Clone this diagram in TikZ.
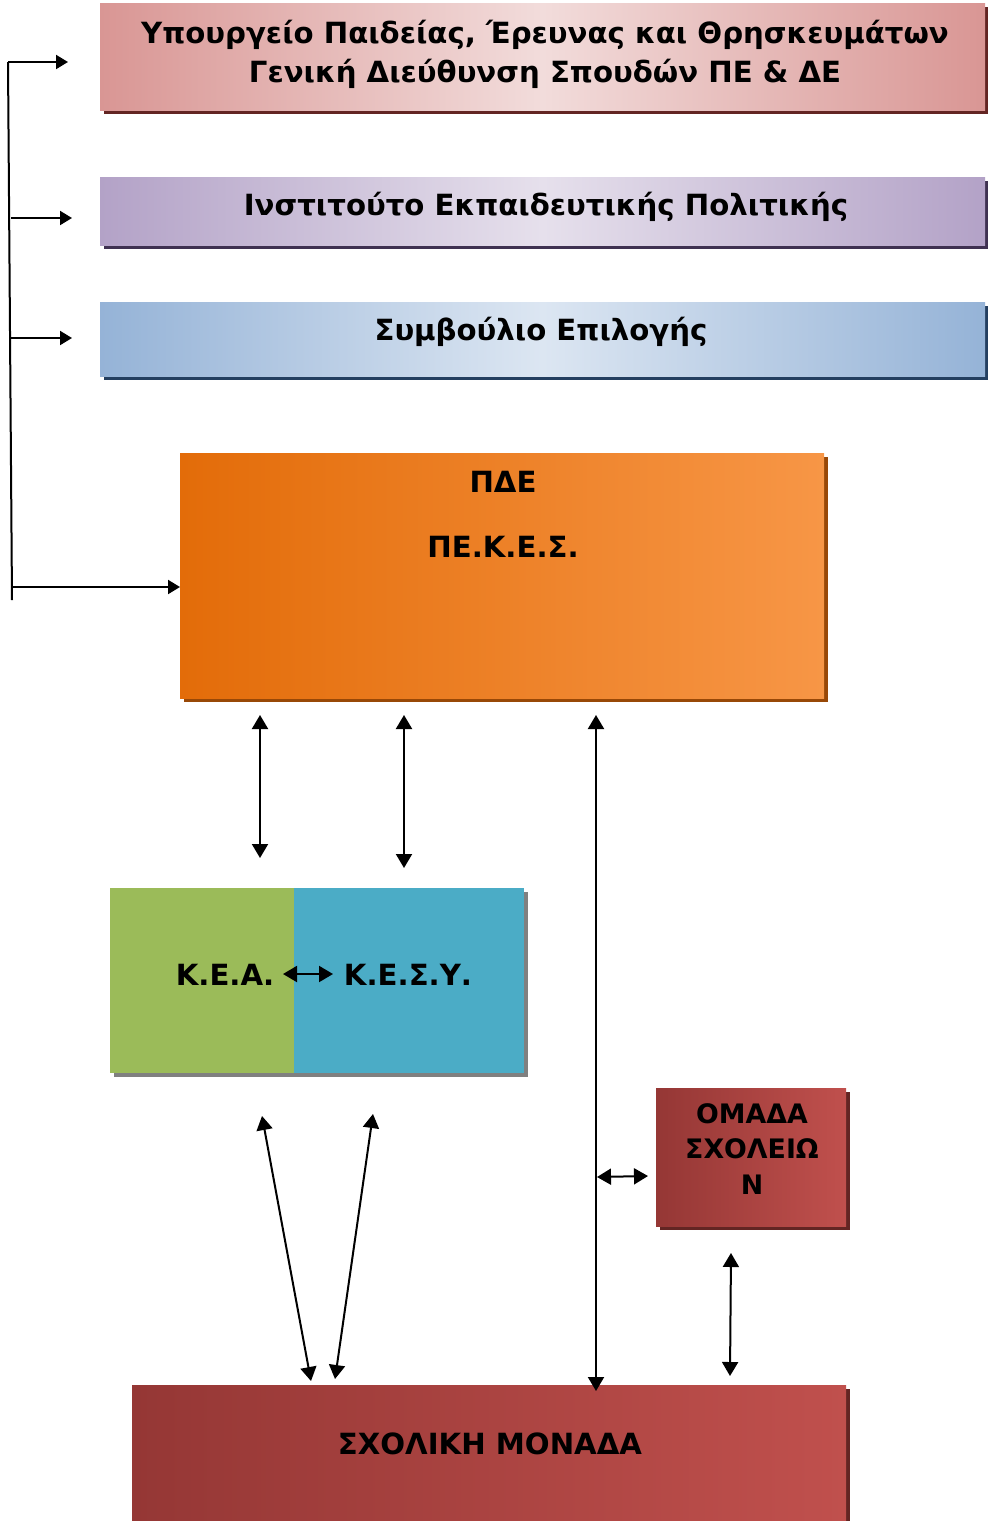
\documentclass[tikz,border=0pt]{standalone}
\usepackage{fontspec}
\setmainfont{DejaVu Sans}
\usetikzlibrary{arrows.meta,shadows,calc}
\definecolor{pinkE}{HTML}{D99694}
\definecolor{pinkM}{HTML}{F2DCDB}
\definecolor{pinkS}{HTML}{632523}
\definecolor{purE}{HTML}{B3A2C7}
\definecolor{purM}{HTML}{E6E0EC}
\definecolor{purS}{HTML}{3F3151}
\definecolor{bluE}{HTML}{95B3D7}
\definecolor{bluM}{HTML}{DCE6F2}
\definecolor{bluS}{HTML}{243F60}
\definecolor{orL}{HTML}{E36C09}
\definecolor{orR}{HTML}{F79646}
\definecolor{orS}{HTML}{984807}
\definecolor{keaG}{HTML}{9BBB59}
\definecolor{kesyB}{HTML}{4BACC6}
\definecolor{redL}{HTML}{953735}
\definecolor{redR}{HTML}{C0504D}
\definecolor{redS}{HTML}{632523}
\begin{document}
\begin{tikzpicture}[x=0.5pt,y=-0.5pt,
  box/.style={anchor=north west, inner sep=0pt, outer sep=0pt},
  sh/.style={general shadow={fill=#1, shadow xshift=2pt, shadow yshift=-2pt}},
  lbl/.style={font=\bfseries\fontsize{14.6}{19.5}\selectfont, align=center, inner sep=0pt},
  arr/.style={line width=1pt, {Triangle[length=7pt,width=8pt]}-{Triangle[length=7pt,width=8pt]}},
  sarr/.style={line width=1pt, -{Triangle[length=6pt,width=7pt]}},
  ln/.style={line width=1pt}
]
\useasboundingbox (0,0) rectangle (987,1521);
% boxes
\node[box, sh=pinkS, minimum width=442.5pt, minimum height=53.5pt,
  left color=pinkE, right color=pinkE, middle color=pinkM] (min) at (100,3) {};
\node[box, sh=purS, minimum width=442.5pt, minimum height=34pt,
  left color=purE, right color=purE, middle color=purM] (iep) at (100,177) {};
\node[box, sh=bluS, minimum width=442.5pt, minimum height=37pt,
  left color=bluE, right color=bluE, middle color=bluM] (se) at (100,302) {};
\node[box, sh=orS, minimum width=322pt, minimum height=122.5pt,
  left color=orL, right color=orR] (pae) at (180,453) {};
\node[box, sh=gray, minimum width=92pt, minimum height=92.5pt, fill=keaG] (kea) at (110,888) {};
\node[box, sh=gray, minimum width=115pt, minimum height=92.5pt, fill=kesyB] (kesy) at (294,888) {};
\node[box, sh=redS, minimum width=95pt, minimum height=69pt,
  left color=redL, right color=redR] (omada) at (656,1088) {};
\node[box, sh=redS, minimum width=357pt, minimum height=68pt,
  left color=redL, right color=redR] (sm) at (132,1385) {};
% labels
\node[lbl] (minT) at (545,54) {Υπουργείο Παιδείας, Έρευνας και Θρησκευμάτων\\Γενική Διεύθυνση Σπουδών ΠΕ \& ΔΕ};
\node[lbl] (iepT) at (546,207) {Ινστιτούτο Εκπαιδευτικής Πολιτικής};
\node[lbl] (seT) at (541,332) {Συμβούλιο Επιλογής};
\node[lbl] (paeT1) at (503,482) {ΠΔΕ};
\node[lbl] (paeT2) at (503,547) {ΠΕ.Κ.Ε.Σ.};
\node[lbl] (keaT) at (225,975) {Κ.Ε.Α.};
\node[lbl] (kesyT) at (408,975) {Κ.Ε.Σ.Υ.};
\node[lbl, font=\bfseries\fontsize{13.4}{17.75}\selectfont] (omadaT) at (752,1149) {ΟΜΑΔΑ\\ΣΧΟΛΕΙΩ\\Ν};
\node[lbl] (smT) at (490,1444) {ΣΧΟΛΙΚΗ ΜΟΝΑΔΑ};
% left distributor
\coordinate (L0) at (8,62);
\coordinate (L1) at (12,600);
\coordinate (a1) at (68,62);
\coordinate (b0) at (11,218);
\coordinate (b1) at (72,218);
\coordinate (c0) at (11,338);
\coordinate (c1) at (72,338);
\coordinate (d0) at (12,587);
\coordinate (d1) at (180,587);
\draw[ln] (L1) -- (L0);
\draw[sarr] (L0) -- (a1);
\draw[sarr] (b0) -- (b1);
\draw[sarr] (c0) -- (c1);
\draw[sarr] (d0) -- (d1);
% pae - kea/kesy
\coordinate (e0) at (260,715);
\coordinate (e1) at (260,858);
\coordinate (f0) at (404,715);
\coordinate (f1) at (404,868);
\draw[arr] (e0) -- (e1);
\draw[arr] (f0) -- (f1);
% kea - kesy
\coordinate (g0) at (283,974);
\coordinate (g1) at (333,974);
\draw[arr] (g0) -- (g1);
% pae - school
\coordinate (h0) at (596,715);
\coordinate (h1) at (596,1391);
\draw[arr] (h0) -- (h1);
% line - omada
\coordinate (i0) at (597,1177);
\coordinate (i1) at (648,1176);
\draw[arr] (i0) -- (i1);
% omada - school
\coordinate (j0) at (731,1253);
\coordinate (j1) at (730,1376);
\draw[arr] (j0) -- (j1);
% kea/kesy - school
\coordinate (k0) at (262,1116);
\coordinate (k1) at (311,1381);
\coordinate (m0) at (373,1114);
\coordinate (m1) at (335,1379);
\draw[arr] (k0) -- (k1);
\draw[arr] (m0) -- (m1);
\end{tikzpicture}
\end{document}
